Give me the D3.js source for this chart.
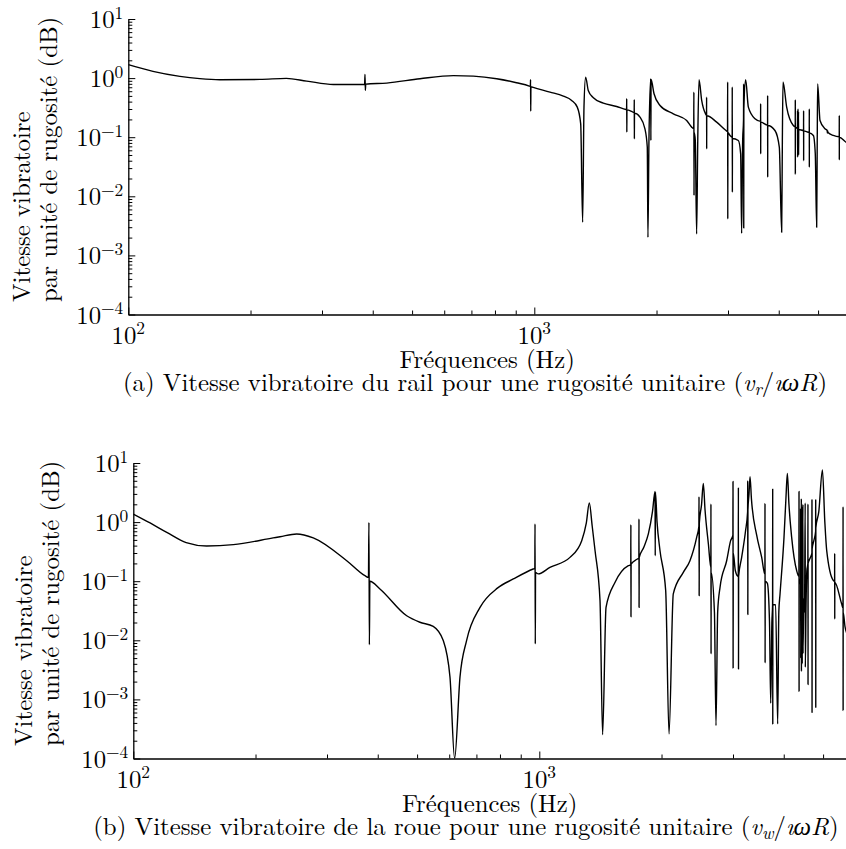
<!DOCTYPE html>
<html>
<head>
<meta charset="utf-8">
<script src="https://cdn.jsdelivr.net/npm/d3@7"></script>
<style>
  html, body { margin: 0; padding: 0; background: #fff; }
  svg { display: block; }
</style>
</head>
<body>
<script>
// ---------------- data ----------------
const yDecades = [1e-4, 1e-3, 1e-2, 1e-1, 1, 10];
const yExponents = ["\u22124", "\u22123", "\u22122", "\u22121", "0", "1"];
const xMajor = [100, 1000];
const xExponents = ["2", "3"];
const xMinor = [200, 300, 400, 500, 600, 700, 800, 900, 2000, 3000, 4000, 5000, 6000];
const freqDomain = [100, 6000];
const valueDomain = [1e-4, 10];

const xTitle = "Fréquences (Hz)";
const yTitle1 = "Vitesse vibratoire";
const yTitle2 = "par unité de rugosité (dB)";
const captionA = ["(a) Vitesse vibratoire du rail pour une rugosité unitaire (", "v", "r", "/", "ıωR", ")"];
const captionB = ["(b) Vitesse vibratoire de la roue pour une rugosité unitaire (", "v", "w", "/", "ıωR", ")"];

// rail velocity (panel a): [frequency Hz, value]
const railData = [
  [100,1.69],[115,1.30],[134,1.07],[150,0.98],[168,0.94],[211,0.95],[245,0.99],[275,0.89],[320,0.78],[379,0.78],
  [382,0.78],[382.8,1.155],[383.6,0.62],[384.4,0.79],
  [433,0.823],[523,0.977],[632,1.10],[708,1.08],[808,0.977],[904,0.835],[972,0.733],
  [978,0.72],[979,0.938],[980,0.276],[981,0.715],
  [994,0.695],[1093,0.58],[1179,0.496],[1236,0.419],[1276,0.323],[1301,0.168],[1315.5,0.00363],[1325.5,0.323],
  [1338,1.04],[1358,0.619],[1398,0.465],[1479,0.377],[1595,0.331],[1682,0.295],
  [1688,0.294],[1689,0.447],[1690,0.1217],[1691,0.29],
  [1737,0.273],
  [1762,0.26],[1763,0.43],[1764,0.0938],[1765,0.255],
  [1821,0.219],[1873,0.1386],[1898,0.0678],[1905,0.00202],[1916,0.088],[1935,0.975],[1937,0.088],[1939,0.95],
  [1972,0.543],[2040,0.344],[2200,0.249],[2373,0.192],[2441,0.148],
  [2470,0.14],[2472,0.58],[2474,0.0103],[2476,0.12],
  [2492,0.088],[2511,0.0023],[2527,0.088],[2545,0.938],[2584,0.419],[2640,0.25],
  [2656,0.235],[2657,0.477],[2658,0.0635],[2659,0.23],
  [2813,0.18],[2966,0.130],
  [2992,0.125],[2994,0.857],[2996,0.00413],[2998,0.12],
  [3034,0.107],
  [3072,0.1],[3073,0.705],[3075,0.0117],[3076,0.095],
  [3181,0.088],[3223,0.0523],[3241,0.00236],[3260,0.088],
  [3276,0.2],[3278,0.80],[3280,0.0029],[3282,0.3],
  [3316,0.938],[3367,0.323],[3497,0.205],
  [3609,0.185],[3610,0.368],[3611,0.0523],[3612,0.18],
  [3755,0.16],[3756,0.509],[3757,0.021],[3758,0.158],
  [3915,0.130],[4013,0.0678],[4067,0.00246],[4083,0.088],[4098,0.857],[4184,0.323],[4345,0.158],
  [4393,0.15],[4394,0.43],[4395,0.0239],[4396,0.148],
  [4448,0.14],[4450,0.28],[4452,0.046],[4462,0.3],[4464,0.06],[4475,0.27],[4477,0.05],[4480,0.135],
  [4605,0.13],[4606,0.28],[4607,0.04],[4608,0.128],
  [4756,0.12],[4757,0.30],[4758,0.031],[4759,0.118],
  [4868,0.107],[4921,0.0523],[4960,0.003],[4976,0.088],[4988,0.80],[5055,0.192],[5200,0.139],
  [5265,0.13],[5270,0.118],[5280,0.127],[5290,0.12],[5451,0.107],
  [5638,0.102],[5639,0.233],[5640,0.0413],[5641,0.1],
  [5857,0.0824],[6000,0.078]
];

// wheel velocity (panel b): [frequency Hz, value]
const wheelData = [
  [100,1.37],[110,0.966],[120.9,0.67],[135,0.45],[151.6,0.394],[176.4,0.415],[221,0.54],[229.8,0.566],[252.6,0.63],
  [277.5,0.54],[335.5,0.222],[372,0.124],[379.5,0.116],
  [380.5,0.99],[381.5,0.0084],[382.5,0.1],
  [405,0.074],[471.4,0.026],[508,0.0202],[548,0.0172],[580,0.0099],[602.6,0.00237],[618.6,0.0001],[637.8,0.0024],
  [662,0.0099],[714.5,0.036],[790,0.077],[863,0.109],[966,0.161],
  [975,0.165],[976,0.93],[977.5,0.0087],[979,0.14],
  [994,0.133],[1062,0.171],[1190,0.253],[1272,0.485],[1305,0.95],[1328,2.10],[1350,0.85],[1372,0.328],[1411,0.047],
  [1432,0.000254],[1460,0.036],[1537,0.096],[1657,0.183],
  [1680,0.19],[1681,0.90],[1682,0.025],[1683,0.195],
  [1740,0.235],
  [1759,0.245],[1760,1.13],[1761,0.036],[1762,0.25],
  [1810,0.38],[1856,0.63],[1900,1.5],[1928,3.3],[1930,0.27],[1932,3.2],[1950,1.0],[1983,0.328],[2048,0.069],
  [2087,0.00026],[2138,0.061],[2263,0.141],[2350,0.222],[2441,0.552],
  [2472,0.85],[2474,2.69],[2476,0.0569],[2478,0.95],
  [2510,2.0],[2535,4.52],[2560,1.6],[2609,0.426],
  [2646,0.17],[2647,2.02],[2649,0.00587],[2650,0.14],
  [2700,0.03],[2724,0.00036],[2750,0.03],[2787,0.0787],[2894,0.222],[2960,0.485],
  [2998,0.6],[3000,4.88],[3002,0.0034],[3004,0.3],
  [3040,0.15],
  [3091,0.12],[3093,3.87],[3095,0.00327],[3097,0.12],
  [3150,0.25],[3220,0.7],
  [3259,1.5],[3261,5.0],[3263,0.0272],[3265,1.6],
  [3285,3.0],[3304,5.86],[3330,2.5],[3431,0.6],[3530,0.252],
  [3595,0.13],[3597,2.07],[3599,0.00413],[3601,0.1],
  [3646,0.0917],[3690,0.02],[3715,0.00086],[3740,0.02],
  [3755,0.04],[3757,3.62],[3759,0.000385],[3761,0.04],
  [3820,0.04],[3865,0.000385],[3890,0.03],[3917,0.0607],[4006,0.552],[4050,2.5],[4083,6.67],[4120,2.0],[4184,0.552],[4305,0.15],
  [4360,0.12],[4362,3.31],[4364,0.00137],[4366,0.11],
  [4400,0.09],[4402,1.7],[4404,0.005],[4420,2.5],[4422,0.003],[4440,1.8],[4442,0.004],[4460,2.0],[4462,0.006],
  [4480,0.05],[4500,0.03],[4518,2.1],[4520,0.0035],[4540,0.04],[4560,0.15],
  [4587,0.2],[4589,2.02],[4591,0.00178],[4593,0.2],
  [4650,0.25],
  [4693,0.3],[4695,2.36],[4697,0.000606],[4699,0.35],
  [4750,0.5],
  [4793,0.7],[4795,2.36],[4797,0.00074],[4799,0.8],
  [4880,1.5],[4981,7.6],[5050,1.0],[5104,0.33],[5300,0.103],
  [5338,0.1],[5340,0.296],[5342,0.0229],[5344,0.095],
  [5557,0.041],
  [5598,0.035],[5600,1.82],[5602,0.00065],[5604,0.03],
  [5662,0.017],[5750,0.012],[6000,0.006]
];

// ---------------- drawing ----------------
const W = 846, H = 849;
const FS = 24.8, SUP = 17.4;
const FONT = "\"Latin Modern Roman\"";

const svg = d3.select("body").append("svg").attr("width", W).attr("height", H)
  .attr("viewBox", `0 0 ${W} ${H}`);
svg.append("rect").attr("width", W).attr("height", H).attr("fill", "#fff");

const panels = [
  { data: railData, left: 128.3, bottom: 314.5, top: 19.0, labelX1: 30, labelX2: 57, labelStart: 302, caption: captionA, capX: 475, id: "a" },
  { data: wheelData, left: 133.3, bottom: 758.5, top: 463.0, labelX1: 31.5, labelX2: 58.5, labelStart: 746, caption: captionB, capX: 466, id: "b" }
];

const decadePx = 406;

function txt(sel) {
  return sel.style("font-family", FONT).attr("fill", "#000");
}

panels.forEach(p => {
  const x = d3.scaleLog().domain(freqDomain)
    .range([p.left, p.left + decadePx * Math.log10(freqDomain[1] / freqDomain[0])]);
  const y = d3.scaleLog().domain(valueDomain).range([p.bottom, p.top]);
  const g = svg.append("g");

  const clipId = "clip-" + p.id;
  svg.append("clipPath").attr("id", clipId).append("rect")
    .attr("x", p.left).attr("y", p.top - 2).attr("width", W - p.left).attr("height", p.bottom - p.top + 2);

  // y axis
  const yMinor = [];
  yDecades.slice(0, -1).forEach(d => { for (let k = 2; k <= 9; k++) yMinor.push(d * k); });
  g.append("g").attr("transform", `translate(${p.left},0)`)
    .call(d3.axisLeft(y).tickValues(yMinor).tickSizeInner(-4).tickSizeOuter(0).tickFormat(""))
    .call(s => s.select(".domain").remove())
    .call(s => s.selectAll("line").attr("stroke", "#000").attr("stroke-width", 1));
  g.append("g").attr("transform", `translate(${p.left},0)`)
    .call(d3.axisLeft(y).tickValues(yDecades).tickSizeInner(-7).tickSizeOuter(0).tickFormat(""))
    .call(s => s.select(".domain").attr("stroke", "#000").attr("stroke-width", 1.3))
    .call(s => s.selectAll("line").attr("stroke", "#000").attr("stroke-width", 1));

  // x axis
  g.append("g").attr("transform", `translate(0,${p.bottom})`)
    .call(d3.axisBottom(x).tickValues(xMinor).tickSizeInner(-4).tickSizeOuter(0).tickFormat(""))
    .call(s => s.select(".domain").remove())
    .call(s => s.selectAll("line").attr("stroke", "#000").attr("stroke-width", 1));
  g.append("g").attr("transform", `translate(0,${p.bottom})`)
    .call(d3.axisBottom(x).tickValues(xMajor).tickSizeInner(-7).tickSizeOuter(0).tickFormat(""))
    .call(s => s.select(".domain").attr("stroke", "#000").attr("stroke-width", 1.3))
    .call(s => s.selectAll("line").attr("stroke", "#000").attr("stroke-width", 1));

  // y tick labels
  yDecades.forEach((d, i) => {
    const t = txt(g.append("text")).attr("x", p.left - 5).attr("y", y(d) + 9)
      .attr("text-anchor", "end").attr("font-size", FS);
    t.append("tspan").text("10");
    t.append("tspan").attr("dy", -9.5).attr("font-size", SUP).text(yExponents[i]);
  });
  // x tick labels
  xMajor.forEach((d, i) => {
    const t = txt(g.append("text")).attr("x", x(d)).attr("y", p.bottom + 29)
      .attr("text-anchor", "middle").attr("font-size", FS);
    t.append("tspan").text("10");
    t.append("tspan").attr("dy", -9.5).attr("font-size", SUP).text(xExponents[i]);
  });

  // axis titles
  txt(g.append("text")).attr("x", (p.left + W) / 2).attr("y", p.bottom + 53)
    .attr("text-anchor", "middle").attr("font-size", FS).text(xTitle);
  txt(g.append("text")).attr("transform", `translate(${p.labelX1},${p.labelStart}) rotate(-90)`)
    .attr("text-anchor", "start").attr("font-size", FS).text(yTitle1);
  txt(g.append("text")).attr("transform", `translate(${p.labelX2},${p.labelStart}) rotate(-90)`)
    .attr("text-anchor", "start").attr("font-size", FS).text(yTitle2);

  // caption
  const c = txt(g.append("text")).attr("x", p.capX).attr("y", p.bottom + 76)
    .attr("text-anchor", "middle").attr("font-size", FS);
  c.append("tspan").text(p.caption[0]);
  c.append("tspan").attr("font-style", "italic").text(p.caption[1]);
  c.append("tspan").attr("font-style", "italic").attr("font-size", SUP).attr("dy", 4).text(p.caption[2]);
  c.append("tspan").attr("dy", -4).text(p.caption[3]);
  c.append("tspan").attr("font-style", "italic").text(p.caption[4]);
  c.append("tspan").text(p.caption[5]);

  // curve
  const line = d3.line().x(d => x(d[0])).y(d => y(d[1])).curve(d3.curveMonotoneX);
  g.append("path").datum(p.data).attr("clip-path", `url(#${clipId})`)
    .attr("d", line).attr("fill", "none").attr("stroke", "#000").attr("stroke-width", 1.4)
    .attr("stroke-linejoin", "round");
});
</script>
</body>
</html>
